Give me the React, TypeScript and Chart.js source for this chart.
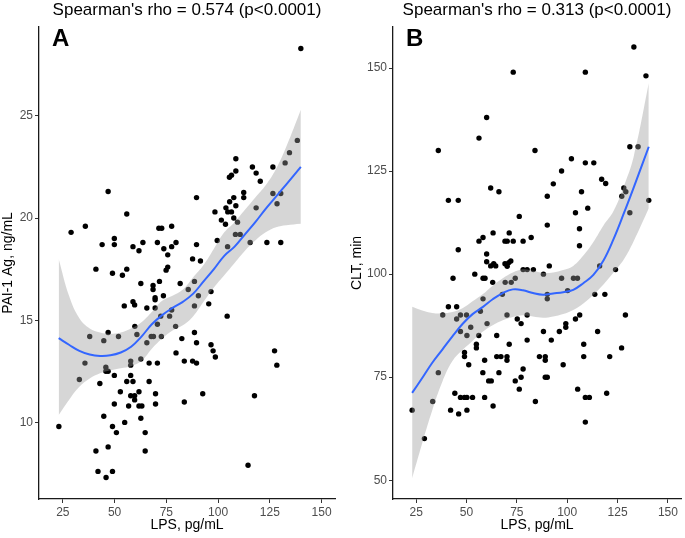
import React, { useEffect, useRef } from 'react';
import { Chart, registerables } from 'chart.js';
Chart.register(...registerables);

const FONT = '"Liberation Sans", Arial, sans-serif';

// ---------- Panel A: LPS vs PAI-1 Ag ----------
const lpsA = [140, 138.3, 134.5, 132.4, 126.5, 116.6, 118.4, 120.4, 108.6, 108.6, 105.5, 106.5, 112.4, 112.4, 107.6, 89.6, 126.5, 130.3, 128.5, 118.4,
  108.6, 105.6, 103.8, 104.7, 106.5, 98.5, 101.6, 103.6, 107.6, 109.4, 108.4, 110.7, 104.6, 99.6, 115.5, 123.6, 130.3, 29, 35.9, 46.9,
  55.9, 49.9, 49.9, 44, 58.9, 61.8, 63.7, 71.4, 72.8, 77.6, 70.7, 73.8, 77.6, 79.7, 75.7, 89.6, 87.7, 91.5, 41, 55.9,
  49, 53.8, 75.7, 74.9, 62.7, 68.6, 68.6, 71.7, 81.7, 85.6, 88.6, 96.6, 90.5, 73.6, 69.6, 69.6, 58.9, 59.7, 54.7, 65.6,
  69.6, 77.6, 72.3, 76.6, 88.6, 95.5, 104.4, 79.5, 70.7, 59.8, 46.9, 60.8, 38, 44.8, 51.9, 65.6, 67.7, 68.8, 72.6, 82.5,
  88.6, 89.6, 96.6, 97.6, 98.7, 79.7, 83.7, 87.7, 89.6, 62.7, 66.7, 70.7, 57.8, 57.8, 35.7, 45.8, 45.8, 46.9, 33, 42.9,
  49.9, 57.8, 55.9, 58.9, 66.7, 52.8, 61.8, 57.8, 59.7, 59.7, 69.8, 92.6, 117.6, 49.9, 56.8, 61.8, 63.2, 69.8, 83.7, 44.8,
  62.7, 49, 23.1, 54.9, 50.9, 64.8, 41, 46.9, 64.8, 42, 49, 45.9, 114.5, 127.3, 128.4];
const paiA = [28.3, 23.8, 23.2, 22.7, 22.5, 22.5, 22.2, 21.8, 22.9, 22.3, 22.0, 22.1, 21.25, 21.0, 21.0, 21.0, 21.2, 21.2, 20.7, 20.5,
  20.6, 20.8, 20.5, 20.3, 20.3, 20.3, 19.9, 19.7, 20.0, 19.8, 19.2, 19.2, 18.6, 18.9, 18.8, 18.8, 18.8, 19.3, 19.6, 21.3,
  20.2, 19.0, 18.7, 18.7, 18.6, 18.4, 18.8, 19.5, 19.5, 19.6, 18.8, 18.5, 18.6, 18.8, 18.2, 18.7, 18.0, 17.9, 17.5, 17.5,
  17.3, 17.2, 17.6, 17.45, 16.8, 16.7, 16.5, 16.9, 16.8, 16.5, 16.9, 16.4, 16.2, 16.2, 16.1, 16.0, 15.9, 15.75, 15.7, 15.6,
  15.6, 15.5, 15.2, 15.2, 15.7, 15.8, 15.2, 14.7, 14.8, 14.7, 14.4, 14.3, 14.2, 14.0, 14.2, 13.9, 14.2, 14.2, 14.2, 14.1,
  14.4, 13.9, 13.8, 13.5, 13.2, 13.4, 13.0, 13.0, 12.9, 13.1, 12.9, 12.9, 13.0, 12.8, 12.9, 12.7, 12.5, 12.5, 12.1, 11.9,
  12.3, 12.3, 12.0, 12.0, 12.0, 11.5, 11.5, 11.3, 11.3, 11.1, 11.4, 11.4, 11.3, 10.9, 10.8, 10.8, 10.8, 10.9, 11.0, 10.3,
  10.2, 9.8, 9.8, 10.0, 9.5, 9.5, 8.6, 8.8, 8.6, 7.6, 7.6, 7.3, 7.9, 13.5, 12.8];

const smoothXA = [23, 28, 33, 38, 43, 48, 53, 58, 63, 68, 73, 78, 83, 88, 93, 98, 103, 108, 113, 118, 123, 128, 133, 140];
const fitA = [14.12, 13.8, 13.5, 13.32, 13.25, 13.28, 13.42, 13.7, 14.2, 14.8, 15.25, 15.6, 15.9, 16.3, 16.9, 17.5, 18.15, 18.6, 19.2, 19.8, 20.45, 21.05, 21.65, 22.5];
const lowA = [10.36, 11.1, 11.74, 12.15, 12.4, 12.55, 12.65, 12.75, 13.0, 13.6, 14.1, 14.5, 14.75, 15.2, 15.9, 16.6, 17.2, 17.8, 18.4, 18.9, 19.3, 19.55, 19.65, 19.72];
const highA = [18.0, 16.2, 15.1, 14.6, 14.4, 14.33, 14.4, 14.6, 14.9, 15.4, 15.95, 16.2, 16.5, 17.1, 17.7, 18.5, 19.3, 19.8, 20.4, 21.0, 21.6, 22.4, 23.5, 25.3];

// ---------- Panel B: LPS vs CLT ----------
const lpsB = [133.1, 109.0, 73.2, 139.1, 60.0, 56.2, 36.0, 84.0, 131.1, 135.2, 102.1, 109.0, 113.2, 97.2, 93.1, 117.1, 119.1, 62.0, 66.1, 90.1,
  107.1, 41.0, 45.9, 140.5, 128.1, 129.1, 127.1, 131.1, 110.2, 104.1, 76.2, 90.1, 106.1, 58.2, 56.2, 63.2, 71.2, 69.1, 70.2, 73.2,
  78.1, 82.1, 106.1, 45.9, 60.0, 60.0, 62.0, 63.5, 64.5, 69.1, 70.2, 72.0, 71.0, 78.1, 80.1, 83.2, 91.1, 116.1, 124.0, 88.2,
  43.3, 54.1, 58.2, 59.2, 63.0, 69.2, 72.2, 74.2, 97.2, 103.1, 105.1, 100.2, 67.8, 90.1, 90.1, 113.7, 118.7, 58.2, 41.0, 45.1,
  56.9, 38.2, 47.0, 50.0, 70.1, 80.1, 106.2, 128.9, 45.1, 75.2, 104.1, 60.2, 77.1, 99.3, 99.3, 52.1, 47.0, 88.2, 96.1, 115.1,
  50.2, 56.1, 65.0, 80.1, 92.1, 54.9, 54.9, 71.2, 108.2, 127.0, 49.0, 49.0, 65.0, 67.1, 70.1, 70.1, 86.2, 89.1, 89.1, 108.2,
  121.1, 59.0, 51.1, 98.0, 78.1, 58.1, 66.1, 36.0, 77.1, 89.1, 90.1, 61.0, 62.3, 74.2, 76.2, 105.2, 44.2, 119.6, 47.0, 49.0,
  50.2, 53.0, 59.0, 109.0, 111.0, 33.2, 84.2, 63.2, 42.1, 50.2, 23.0, 46.1, 109.0, 29.1];
const cltB = [155.1, 149.0, 149.0, 148.1, 138.0, 133.0, 130.0, 130.0, 130.9, 130.9, 128.0, 127.0, 127.0, 125.0, 121.9, 123.0, 122.0, 120.9, 120.0, 118.9,
  120.0, 117.9, 117.9, 117.9, 120.9, 120.0, 118.9, 114.9, 116.0, 114.9, 114.0, 111.9, 111.0, 108.9, 108.0, 110.0, 110.0, 108.0, 108.0, 108.0,
  108.0, 108.9, 106.9, 105.9, 104.9, 103.0, 102.0, 102.5, 102.0, 102.5, 101.9, 103.2, 102.8, 101.1, 101.1, 101.1, 102.0, 102.0, 101.1, 100.0,
  99.0, 100.0, 99.0, 99.0, 98.0, 98.0, 98.0, 99.0, 99.0, 99.0, 99.0, 96.0, 95.1, 95.1, 94.0, 95.1, 95.1, 94.0, 92.1, 92.1,
  91.0, 90.1, 90.1, 90.1, 90.1, 90.1, 90.1, 90.1, 89.1, 89.1, 89.1, 88.0, 88.0, 88.0, 87.1, 87.1, 86.1, 86.1, 86.1, 86.1,
  85.1, 85.1, 85.1, 84.0, 84.0, 83.0, 82.1, 83.0, 83.0, 82.1, 81.0, 80.0, 80.0, 80.0, 80.0, 79.1, 80.0, 80.0, 79.1, 80.0,
  80.0, 79.1, 78.0, 78.0, 77.0, 76.1, 76.1, 76.1, 75.0, 75.0, 75.0, 74.1, 74.1, 74.1, 72.1, 72.1, 71.1, 71.1, 70.1, 70.1,
  70.1, 70.1, 70.1, 70.1, 70.1, 69.1, 69.1, 68.0, 67.0, 67.0, 67.0, 66.1, 64.1, 60.1];

const smoothXB = [23, 28, 33, 38, 43, 48, 53, 58, 63, 68, 73, 78, 83, 88, 93, 98, 103, 108, 113, 118, 123, 128, 133, 140.5];
const fitB = [71.2, 74.8, 78.5, 81.7, 84.9, 87.9, 90.3, 92.0, 93.9, 95.4, 96.3, 96.1, 95.4, 95.0, 95.3, 95.6, 96.2, 97.8, 99.8, 103.3, 108.5, 114.6, 121.0, 130.9];
const lowB = [50.5, 59.0, 67.0, 73.9, 78.9, 81.6, 83.8, 86.0, 87.6, 88.8, 89.6, 90.0, 89.7, 89.4, 89.7, 90.3, 91.3, 92.9, 95.0, 97.5, 100.4, 103.5, 108.0, 116.0];
const highB = [92.1, 91.2, 90.6, 90.5, 90.8, 91.7, 93.4, 95.1, 97.2, 99.0, 100.4, 101.2, 100.8, 100.3, 100.4, 101.0, 102.0, 104.5, 107.8, 111.8, 115.3, 121.2, 128.5, 146.3];

const xTicks = [25, 50, 75, 100, 125, 150];
const yTicksA = [10, 15, 20, 25];
const yTicksB = [50, 75, 100, 125, 150];

const annotPlugin = {
  id: 'annot',
  afterDraw(chart: any, _args: any, opts: any) {
    const { ctx, chartArea } = chart;
    ctx.save();
    ctx.fillStyle = '#000';
    ctx.font = `17px ${FONT}`;
    ctx.textAlign = 'center';
    ctx.textBaseline = 'alphabetic';
    ctx.fillText(opts.title, (chartArea.left + chartArea.right) / 2, 15);
    ctx.font = `bold 24px ${FONT}`;
    ctx.textAlign = 'left';
    ctx.fillText(opts.letter, chartArea.left + 13, 46);
    ctx.restore();
  },
};

type PanelProps = {
  left: number; width: number; padRight: number; yAxisWidth: number; yTitlePad: number;
  xs: number[]; ys: number[]; sx: number[]; fit: number[]; lo: number[]; hi: number[];
  yMin: number; yMax: number; yTicks: number[]; yLabel: string; title: string; letter: string;
};

function Panel(p: PanelProps) {
  const ref = useRef<HTMLCanvasElement>(null);
  useEffect(() => {
    const pts = (a: number[], b: number[]) => a.map((x, i) => ({ x, y: b[i] }));
    const chart = new Chart(ref.current as HTMLCanvasElement, {
      type: 'scatter',
      data: {
        datasets: [
          { type: 'line', data: pts(p.sx, p.fit), borderColor: '#3366FF', borderWidth: 2, pointRadius: 0, tension: 0.4, fill: false, order: 0 } as any,
          { type: 'line', data: pts(p.sx, p.hi), borderWidth: 0, borderColor: 'rgba(0,0,0,0)', backgroundColor: 'rgba(153,153,153,0.4)', pointRadius: 0, tension: 0.4, fill: '+1', order: 1 } as any,
          { type: 'line', data: pts(p.sx, p.lo), borderWidth: 0, borderColor: 'rgba(0,0,0,0)', pointRadius: 0, tension: 0.4, fill: false, order: 1 } as any,
          { type: 'scatter', data: pts(p.xs, p.ys), backgroundColor: '#000', borderWidth: 0, pointRadius: 2.7, order: 3 } as any,
        ],
      },
      options: {
        animation: false,
        responsive: false,
        events: [],
        layout: { padding: { top: 27, right: p.padRight, bottom: 0, left: 0 } },
        plugins: {
          legend: { display: false },
          tooltip: { enabled: false },
          annot: { title: p.title, letter: p.letter },
        } as any,
        scales: {
          x: {
            type: 'linear', min: 13.5, max: 156.5,
            afterBuildTicks: (s: any) => { s.ticks = xTicks.map((v) => ({ value: v })); },
            afterFit: (s: any) => { s.height = 39; },
            border: { display: true, color: '#1a1a1a', width: 1.3 },
            grid: { display: true, drawOnChartArea: false, drawTicks: true, tickLength: 4, tickColor: '#333', color: '#333' },
            ticks: { color: '#4D4D4D', font: { size: 12, family: FONT }, padding: 2, maxRotation: 0 },
            title: { display: true, text: 'LPS, pg/mL', color: '#000', font: { size: 14, family: FONT }, padding: { top: 0, bottom: 4 } },
          },
          y: {
            type: 'linear', min: p.yMin, max: p.yMax,
            afterBuildTicks: (s: any) => { s.ticks = p.yTicks.map((v) => ({ value: v })); },
            afterFit: (s: any) => { s.width = p.yAxisWidth; },
            border: { display: true, color: '#1a1a1a', width: 1.3 },
            grid: { display: true, drawOnChartArea: false, drawTicks: true, tickLength: 4, tickColor: '#333', color: '#333' },
            ticks: { color: '#4D4D4D', font: { size: 12, family: FONT }, padding: 2 },
            title: { display: true, text: p.yLabel, color: '#000', font: { size: 14, family: FONT }, padding: { top: p.yTitlePad, bottom: 0 } },
          },
        },
      } as any,
      plugins: [annotPlugin],
    });
    return () => chart.destroy();
  }, []);
  return (
    <canvas ref={ref} width={p.width} height={538}
      style={{ position: 'absolute', left: p.left, top: 0, width: p.width, height: 538 }} />
  );
}

export default function App() {
  return (
    <div style={{ position: 'absolute', left: 0, top: 0, width: 685, height: 538, background: '#fff', fontFamily: FONT }}>
      <Panel left={0} width={340} padRight={5} yAxisWidth={39} yTitlePad={0}
        xs={lpsA} ys={paiA} sx={smoothXA} fit={fitA} lo={lowA} hi={highA}
        yMin={6.25} yMax={29.35} yTicks={yTicksA} yLabel="PAI-1 Ag, ng/mL"
        title="Spearman's rho = 0.574 (p<0.0001)" letter="A" />
      <Panel left={340} width={345} padRight={2} yAxisWidth={53} yTitlePad={8.5}
        xs={lpsB} ys={cltB} sx={smoothXB} fit={fitB} lo={lowB} hi={highB}
        yMin={45.45} yMax={159.95} yTicks={yTicksB} yLabel="CLT, min"
        title="Spearman's rho = 0.313 (p<0.0001)" letter="B" />
    </div>
  );
}
